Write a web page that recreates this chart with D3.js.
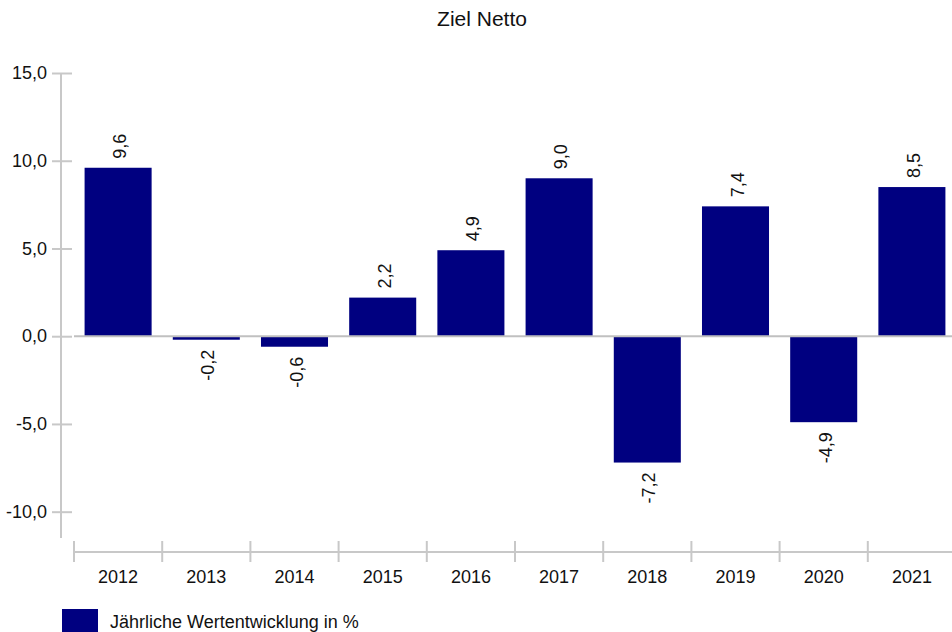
<!DOCTYPE html>
<meta charset="utf-8">
<style>
body { margin: 0; background: #fff; }
svg text {
  font-family: "Liberation Sans", Arial, sans-serif;
  fill: #111;
}
.axis path { display: none; }
.axis line { stroke: #c8c8c8; stroke-width: 2; }
.axis text { font-size: 18px; }
.title { font-size: 21px; }
.val { font-size: 18px; }
.legend text { font-size: 18px; }
</style>

<div id="chart"></div>
<script src="https://d3js.org/d3.v7.min.js"></script>
<script>
// data
var years = ["2012", "2013", "2014", "2015", "2016", "2017", "2018", "2019", "2020", "2021"];
var values = [9.6, -0.2, -0.6, 2.2, 4.9, 9.0, -7.2, 7.4, -4.9, 8.5];
var yTicks = [-10, -5, 0, 5, 10, 15];
var seriesName = "Jährliche Wertentwicklung in %";
var chartTitle = "Ziel Netto";

var w = 952,
  h = 632,
  axisX = 61,      // y axis line
  plotLeft = 74,
  plotRight = 956,
  xAxisY = 552,
  barColor = "#000080";

var de = d3.formatLocale({ decimal: ",", thousands: ".", grouping: [3], currency: ["", " €"], minus: "-" });
var fmt = de.format(".1f");

var svg = d3.select("#chart")
  .append("svg")
  .attr("width", w)
  .attr("height", h);

var x = d3.scaleBand().domain(years).range([plotLeft, plotRight])
    .paddingInner(0.24).paddingOuter(0.12),
  y = d3.scaleLinear().domain([-11.5, 15]).range([538, 73]);

svg.append("text")
  .attr("class", "title")
  .attr("x", 482)
  .attr("y", 26)
  .attr("text-anchor", "middle")
  .text(chartTitle);

// y axis
var yAxis = d3.axisLeft(y)
  .tickValues(yTicks)
  .tickSize(9)
  .tickPadding(5)
  .tickFormat(fmt);

var gy = svg.append("g")
  .attr("class", "axis")
  .attr("transform", "translate(" + axisX + ",0)")
  .call(yAxis);
gy.selectAll(".tick line").attr("x1", 11);
gy.append("line")
  .attr("x1", 0).attr("x2", 0)
  .attr("y1", y(15)).attr("y2", y(-11.5));

// x axis: labels under bands, ticks on band boundaries
var xAxis = d3.axisBottom(x).tickSize(0).tickPadding(18);
var gx = svg.append("g")
  .attr("class", "axis")
  .attr("transform", "translate(0," + xAxisY + ")")
  .call(xAxis);
gx.append("line")
  .attr("x1", plotLeft).attr("x2", w)
  .attr("y1", 0).attr("y2", 0);
var bounds = years.map(function (d) { return x(d) - x.step() * x.paddingOuter(); });
gx.selectAll(".bound")
  .data(bounds)
  .enter()
  .append("line")
  .attr("class", "bound")
  .attr("x1", function (d) { return d; })
  .attr("x2", function (d) { return d; })
  .attr("y1", -11)
  .attr("y2", 10);

// bars
svg.selectAll(".bar")
  .data(values)
  .enter()
  .append("rect")
  .attr("class", "bar")
  .attr("x", function (d, i) { return x(years[i]); })
  .attr("width", x.bandwidth())
  .attr("y", function (d) { return d >= 0 ? y(d) : y(0); })
  .attr("height", function (d) { return Math.abs(y(d) - y(0)); })
  .attr("fill", barColor);

// zero line
svg.append("line")
  .attr("x1", plotLeft).attr("x2", w)
  .attr("y1", y(0)).attr("y2", y(0))
  .attr("stroke", "#c0c0c0")
  .attr("stroke-width", 2);

// value labels, rotated
svg.selectAll(".val")
  .data(values)
  .enter()
  .append("text")
  .attr("class", "val")
  .attr("transform", function (d, i) {
    var cx = x(years[i]) + x.bandwidth() / 2 + 8;
    var cy = d >= 0 ? y(d) - 9 : y(d) + 10;
    return "translate(" + cx + "," + cy + ") rotate(-90)";
  })
  .attr("text-anchor", function (d) { return d >= 0 ? "start" : "end"; })
  .text(function (d) { return fmt(d); });

// legend
var lg = svg.append("g").attr("class", "legend");
lg.append("rect")
  .attr("x", 62).attr("y", 609)
  .attr("width", 36).attr("height", 23)
  .attr("fill", barColor);
lg.append("text")
  .attr("x", 110).attr("y", 628)
  .text(seriesName);
</script>
